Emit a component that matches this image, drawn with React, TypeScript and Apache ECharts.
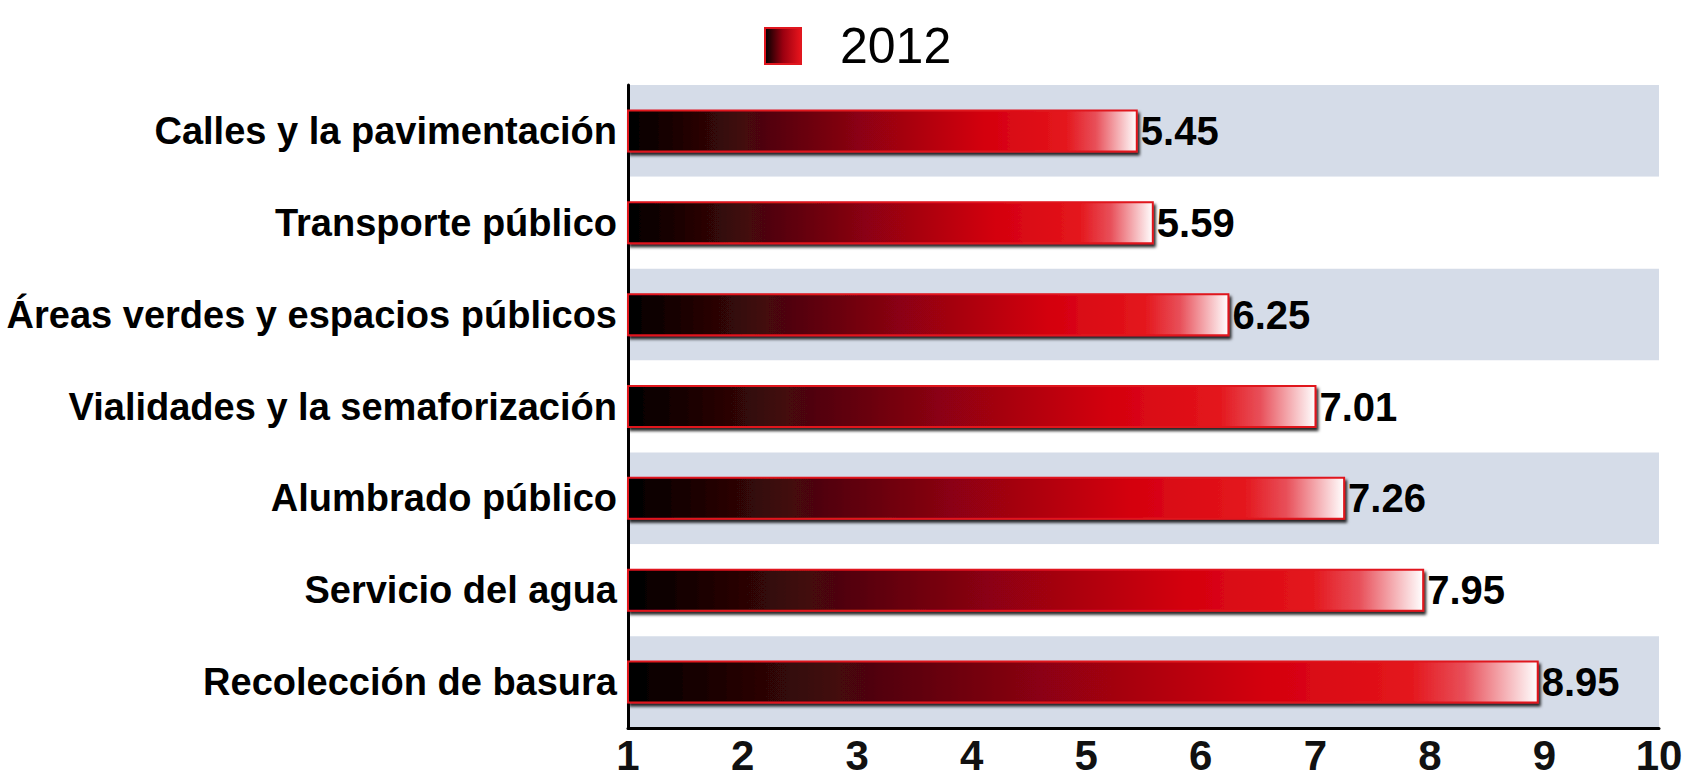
import React, { useEffect, useRef } from "react";
import * as echarts from "echarts";

const categories = [
  "Calles y la pavimentación",
  "Transporte público",
  "Áreas verdes y espacios públicos",
  "Vialidades y la semaforización",
  "Alumbrado público",
  "Servicio del agua",
  "Recolección de basura",
];
const values2012 = [5.45, 5.59, 6.25, 7.01, 7.26, 7.95, 8.95];
const xTicks = [1, 2, 3, 4, 5, 6, 7, 8, 9, 10];
const seriesName = "2012";

export default function App() {
  const ref = useRef<HTMLDivElement>(null);
  useEffect(() => {
    if (!ref.current) return;
    const chart = echarts.init(ref.current, undefined, { renderer: "svg" });
    const barGrad = new echarts.graphic.LinearGradient(0, 0, 1, 0, [
      { offset: 0, color: "#000000" },
      { offset: 0.2, color: "#3a0808" },
      { offset: 0.45, color: "#8a0012" },
      { offset: 0.7, color: "#d4000f" },
      { offset: 0.86, color: "#e4161c" },
      { offset: 0.92, color: "#e8505a" },
      { offset: 1, color: "#ffffff" },
    ]);
    const legendGrad = new echarts.graphic.LinearGradient(0, 0, 1, 0, [
      { offset: 0, color: "#000000" },
      { offset: 0.5, color: "#9a0010" },
      { offset: 1, color: "#e8141c" },
    ]);
    chart.setOption({
      animation: false,
      backgroundColor: "#ffffff",
      legend: {
        left: 759,
        top: 16,
        itemWidth: 36,
        itemHeight: 36,
        icon: "rect",
        data: [
          {
            name: seriesName,
            itemStyle: { color: legendGrad, borderColor: "#e0161e", borderWidth: 2 },
          },
        ],
        textStyle: {
          fontFamily: "Liberation Sans, Arial, sans-serif",
          fontSize: 50,
          color: "#000",
          padding: [0, 0, 0, 34],
        },
      },
      grid: { left: 628, right: 30, top: 85, bottom: 51, containLabel: false },
      xAxis: {
        type: "value",
        min: 1,
        max: 10,
        interval: 1,
        axisLine: { show: true, lineStyle: { color: "#000", width: 3 } },
        axisTick: { show: false },
        splitLine: { show: false },
        axisLabel: {
          data: xTicks,
          fontFamily: "Liberation Sans, Arial, sans-serif",
          fontWeight: "bold",
          fontSize: 42,
          color: "#111",
          margin: 6,
        },
      },
      yAxis: {
        type: "category",
        data: categories,
        inverse: true,
        axisLine: { show: true, lineStyle: { color: "#000", width: 3 } },
        axisTick: { show: false },
        splitArea: { show: true, areaStyle: { color: ["#d5dce8", "#ffffff"] } },
        axisLabel: {
          fontFamily: "Liberation Sans, Arial, sans-serif",
          fontWeight: "bold",
          fontSize: 38,
          color: "#000",
          margin: 11,
        },
      },
      series: [
        {
          name: seriesName,
          type: "bar",
          data: values2012,
          barWidth: 43,
          itemStyle: {
            color: barGrad,
            borderColor: "#e0161e",
            borderWidth: 2,
            shadowColor: "rgba(0,0,0,0.85)",
            shadowBlur: 3,
            shadowOffsetX: 2,
            shadowOffsetY: 3,
          },
          label: {
            show: true,
            position: "right",
            distance: 3,
            fontFamily: "Liberation Sans, Arial, sans-serif",
            fontWeight: "bold",
            fontSize: 40,
            color: "#000",
            formatter: (p: any) => p.value.toFixed(2),
          },
        },
      ],
    });
    return () => chart.dispose();
  }, []);
  return (
    <div
      ref={ref}
      style={{ position: "fixed", left: 0, top: 0, width: 1689, height: 779, background: "#fff" }}
    />
  );
}
